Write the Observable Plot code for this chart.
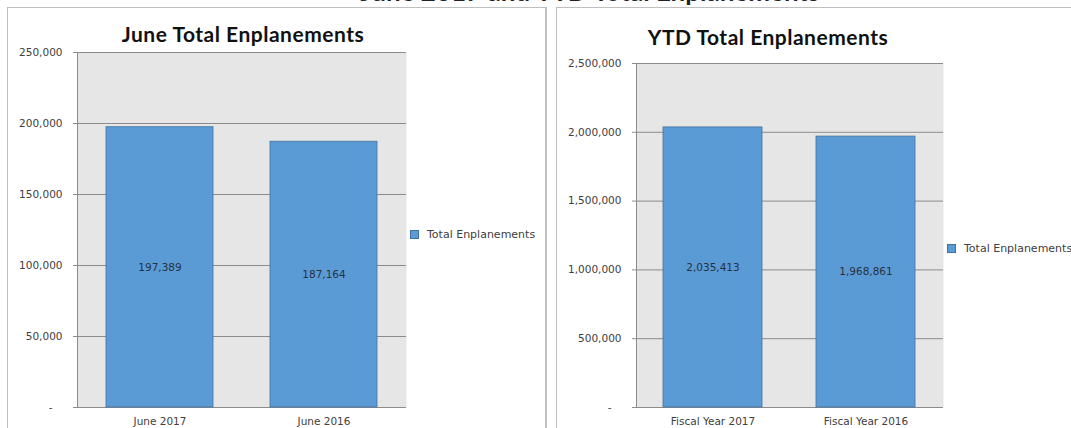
<!DOCTYPE html>
<html>
<head>
<meta charset="utf-8">
<script src="https://cdn.jsdelivr.net/npm/d3@7"></script>
<script src="https://cdn.jsdelivr.net/npm/@observablehq/plot@0.6"></script>
<style>
  html, body { margin: 0; padding: 0; background: #fff; width: 1071px; height: 428px; overflow: hidden; }
  .abs { position: absolute; }
  .panel { position: absolute; border: 1px solid #bfbfbf; box-sizing: border-box; }
  .title { position: absolute; font-family: Lato, "Open Sans", sans-serif; font-weight: 700; color: #111; white-space: nowrap; transform: translate(-50%, -50%); }
  .legend { position: absolute; font-family: "DejaVu Sans", sans-serif; font-size: 11px; color: #404040; white-space: nowrap; display: flex; align-items: center; }
  .swatch { width: 7px; height: 7px; background: #5b9bd5; border: 0.5px solid #41719c; margin-right: 8px; }
</style>
</head>
<body>
<script>
// ---- data ----
const juneCategories = ["June 2017", "June 2016"];
const juneValues = [197389, 187164];
const juneTicks = [0, 50000, 100000, 150000, 200000, 250000];

const ytdCategories = ["Fiscal Year 2017", "Fiscal Year 2016"];
const ytdValues = [2035413, 1968861];
const ytdTicks = [0, 500000, 1000000, 1500000, 2000000, 2500000];

const seriesName = "Total Enplanements";
const mainTitle = "June 2017 and YTD Total Enplanements";
const juneTitle = "June Total Enplanements";
const ytdTitle = "YTD Total Enplanements";

// ---- helpers ----
const comma = d3.format(",");
const tickFmt = d => d === 0 ? "-\u00a0\u00a0\u00a0" : comma(d);

function el(cls, css, text) {
  const e = document.createElement("div");
  e.className = cls;
  Object.assign(e.style, css);
  if (text != null) e.textContent = text;
  document.body.appendChild(e);
  return e;
}

function chart(cats, vals, ticks, opts) {
  const data = cats.map((c, i) => ({cat: c, value: vals[i]}));
  return Plot.plot({
    width: opts.width,
    height: 428,
    marginLeft: opts.ml,
    marginRight: opts.mr,
    marginTop: opts.mt,
    marginBottom: 21,
    style: {fontFamily: "'DejaVu Sans', sans-serif", fontSize: "10.5px", color: "#404040", background: "transparent"},
    x: {domain: cats, paddingInner: 0.35, paddingOuter: 0.175, label: null},
    y: {domain: [ticks[0], ticks[ticks.length - 1]], label: null},
    marks: [
      Plot.frame({fill: "#e7e6e6", stroke: null}),
      Plot.ruleY(ticks, {stroke: "#8c8c8c", strokeWidth: 1}),
      Plot.barY(data, {x: "cat", y: "value", fill: "#5b9bd5", stroke: "#41719c", strokeWidth: 0.8}),
      Plot.text(data, {x: "cat", y: d => d.value / 2, text: d => comma(d.value), fill: "#26323f", fontSize: 10.5}),
      Plot.frame({anchor: "left", stroke: "#8c8c8c"}),
      Plot.axisY({ticks: ticks, tickFormat: tickFmt, tickSize: 4, tickPadding: 11, stroke: "#8c8c8c", label: null}),
      Plot.axisX({tickSize: 0, tickPadding: 10, label: null})
    ]
  });
}

// ---- top (cut-off, as in the reference) main title ----
el("title", {left: "590px", top: "-9px", fontSize: "26px", color: "#222"}, mainTitle);

// ---- panels ----
el("panel", {left: "7px", top: "7px", width: "540px", height: "450px", borderRightWidth: "2px"});
el("panel", {left: "556px", top: "7px", width: "600px", height: "450px"});

// ---- left chart ----
const c1 = chart(juneCategories, juneValues, juneTicks, {width: 420, ml: 77, mr: 14, mt: 52});
const w1 = el("abs", {left: "0px", top: "0px"});
w1.appendChild(c1);

// ---- right chart ----
const c2 = chart(ytdCategories, ytdValues, ytdTicks, {width: 400, ml: 80, mr: 13, mt: 63});
const w2 = el("abs", {left: "556px", top: "0px"});
w2.appendChild(c2);

// ---- titles ----
el("title", {left: "243px", top: "33px", fontSize: "21px", letterSpacing: "0.5px"}, juneTitle);
el("title", {left: "768px", top: "36px", fontSize: "21px", letterSpacing: "0.5px"}, ytdTitle);

// ---- legends ----
function legend(x, y) {
  const l = el("legend", {left: x + "px", top: y + "px"});
  const s = document.createElement("span");
  s.className = "swatch";
  l.appendChild(s);
  l.appendChild(document.createTextNode(seriesName));
}
legend(410, 228);
legend(947, 242);
</script>
</body>
</html>
